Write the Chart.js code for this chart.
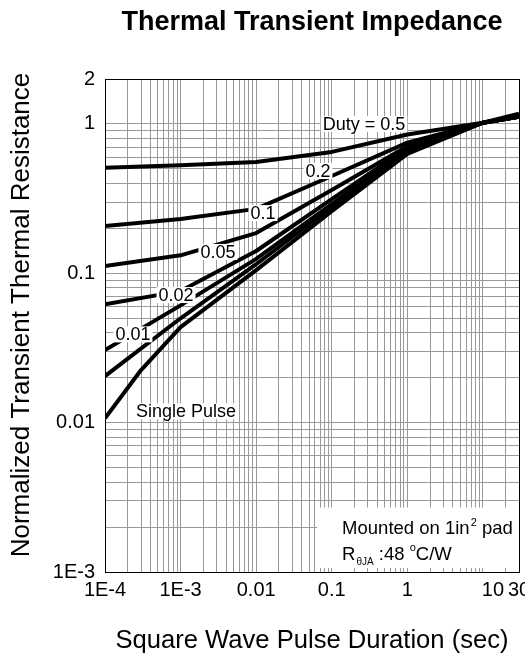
<!DOCTYPE html>
<html>
<head>
<meta charset="utf-8">
<script src="https://cdn.jsdelivr.net/npm/chart.js@4.4.1/dist/chart.umd.min.js"></script>
<style>
  html, body { margin: 0; padding: 0; background: #fff; }
  #wrap { width: 525px; height: 659px; }
</style>
</head>
<body>
<div id="wrap"><canvas id="chart" width="525" height="659"></canvas></div>
<script>
// pulse duration (sec) where the curves were read
const pulseTimes = [1e-4, 1e-3, 0.01, 0.1, 1, 10, 30];
const singleTimes = [1e-4, 3e-4, 1e-3, 0.01, 0.1, 1, 10, 30];

// normalized transient thermal resistance
const duty05 = [0.51, 0.53, 0.556, 0.65, 0.85, 1.02, 1.17];
const duty02 = [0.207, 0.231, 0.27, 0.448, 0.75, 1.02, 1.13];
const duty01 = [0.112, 0.132, 0.186, 0.361, 0.71, 1.02, 1.12];
const duty005 = [0.062, 0.076, 0.141, 0.314, 0.69, 1.02, 1.12];
const duty002 = [0.0306, 0.061, 0.125, 0.291, 0.67, 1.02, 1.12];
const duty001 = [0.0205, 0.050, 0.115, 0.278, 0.65, 1.02, 1.12];
const singlePulse = [0.0107, 0.0225, 0.0436, 0.105, 0.261, 0.63, 1.02, 1.12];

// curve labels and where they sit (data coords)
const curveLabels = ['Duty = 0.5', '0.2', '0.1', '0.05', '0.02', '0.01', 'Single Pulse'];
const labelX = [0.267, 0.0656, 0.0123, 0.00312, 8.7e-4, 2.34e-4, 1.18e-3];
const labelY = [1.0, 0.484, 0.253, 0.139, 0.0715, 0.039, 0.0119];

// tick labels
const xLabelValues = [1e-4, 1e-3, 0.01, 0.1, 1, 10, 30];
const xLabelText = ['1E-4', '1E-3', '0.01', '0.1', '1', '10', '30'];
const yLabelValues = [1e-3, 0.01, 0.1, 1, 2];
const yLabelText = ['1E-3', '0.01', '0.1', '1', '2'];

// note box corner (data coords)
const noteX = 0.064;
const noteY = 0.0027;

const FONT = '"Liberation Sans", Arial, Helvetica, sans-serif';

function logGrid(min, max) {
  const out = [];
  for (let e = -5; e <= 2; e++) {
    for (let m = 1; m <= 9; m++) {
      const v = parseFloat((m * Math.pow(10, e)).toPrecision(3));
      if (v >= min * 0.999 && v <= max * 1.001) out.push(v);
    }
  }
  return out;
}

const pts = (xs, ys) => xs.map((x, i) => ({ x: x, y: ys[i] }));

const lineStyle = {
  borderColor: '#000',
  borderWidth: 4,
  pointRadius: 0,
  fill: false,
  tension: 0,
  borderJoinStyle: 'round'
};

const datasets = [
  { label: '0.5', data: pts(pulseTimes, duty05) },
  { label: '0.2', data: pts(pulseTimes, duty02) },
  { label: '0.1', data: pts(pulseTimes, duty01) },
  { label: '0.05', data: pts(pulseTimes, duty005) },
  { label: '0.02', data: pts(pulseTimes, duty002) },
  { label: '0.01', data: pts(pulseTimes, duty001) },
  { label: 'Single Pulse', data: pts(singleTimes, singlePulse) }
].map(d => Object.assign({}, lineStyle, d));

const decorations = {
  id: 'decorations',
  beforeDraw(chart) {
    const ctx = chart.ctx;
    ctx.save();
    ctx.fillStyle = '#fff';
    ctx.fillRect(0, 0, chart.width, chart.height);
    ctx.restore();
  },
  afterDatasetsDraw(chart) {
    const ctx = chart.ctx;
    const xs = chart.scales.x, ys = chart.scales.y;
    const area = chart.chartArea;
    ctx.save();

    // curve labels with white backing
    ctx.font = '18px ' + FONT;
    ctx.textAlign = 'center';
    ctx.textBaseline = 'middle';
    curveLabels.forEach((t, i) => {
      const cx = xs.getPixelForValue(labelX[i]);
      const cy = ys.getPixelForValue(labelY[i]);
      const w = ctx.measureText(t).width;
      ctx.fillStyle = '#fff';
      ctx.fillRect(cx - w / 2 - 2, cy - 8, w + 4, 16);
      ctx.fillStyle = '#000';
      ctx.fillText(t, cx, cy + 1);
    });

    // mounting note
    const nx = xs.getPixelForValue(noteX);
    const ny = ys.getPixelForValue(noteY);
    ctx.fillStyle = '#fff';
    ctx.fillRect(nx, ny, area.right - nx, area.bottom - 4 - ny);
    ctx.fillStyle = '#000';
    ctx.textAlign = 'left';
    ctx.textBaseline = 'alphabetic';
    const big = '18.5px ' + FONT;
    let tx = nx + 25, base1 = ny + 26, base2 = ny + 52;
    ctx.font = big;
    ctx.fillText('Mounted on 1in', tx, base1);
    tx += ctx.measureText('Mounted on 1in').width + 1;
    ctx.font = '11px ' + FONT;
    ctx.fillText('2', tx, base1 - 8);
    tx += ctx.measureText('2').width;
    ctx.font = big;
    ctx.fillText(' pad', tx, base1);

    tx = nx + 25;
    ctx.fillText('R', tx, base2);
    tx += ctx.measureText('R').width + 1;
    ctx.font = '10px ' + FONT;
    ctx.fillText('\u03B8JA', tx, base2 + 5);
    tx += ctx.measureText('\u03B8JA').width;
    ctx.font = big;
    ctx.fillText(' :48 ', tx, base2);
    tx += ctx.measureText(' :48 ').width;
    ctx.font = '11px ' + FONT;
    ctx.fillText('o', tx, base2 - 9);
    tx += ctx.measureText('o').width;
    ctx.font = big;
    ctx.fillText('C/W', tx, base2);

    // frame
    ctx.strokeStyle = '#000';
    ctx.lineWidth = 1;
    ctx.strokeRect(Math.round(area.left) + 0.5, Math.round(area.top) + 0.5,
      Math.round(area.right - area.left), Math.round(area.bottom - area.top));
    ctx.restore();
  },
  afterDraw(chart) {
    const ctx = chart.ctx;
    const xs = chart.scales.x;
    const area = chart.chartArea;
    const mid = (area.left + area.right) / 2;
    ctx.save();
    ctx.fillStyle = '#000';
    ctx.textAlign = 'center';
    ctx.textBaseline = 'middle';

    ctx.font = 'bold 27px ' + FONT;
    ctx.fillText('Thermal Transient Impedance', mid, 23);

    ctx.font = '20px ' + FONT;
    xLabelValues.forEach((v, i) => {
      // "10" is nudged right in the original so it clears "30"
      const shift = xLabelText[i] === '10' ? 10 : 0;
      ctx.fillText(xLabelText[i], xs.getPixelForValue(v) + shift, 590);
    });

    ctx.font = '25.6px ' + FONT;
    ctx.fillText('Square Wave Pulse Duration (sec)', mid, 641);

    ctx.font = '26px ' + FONT;
    ctx.translate(22, 315);
    ctx.rotate(-Math.PI / 2);
    ctx.fillText('Normalized Transient Thermal Resistance', 0, 0);
    ctx.restore();
  }
};

new Chart(document.getElementById('chart'), {
  type: 'line',
  data: { datasets: datasets },
  options: {
    responsive: false,
    animation: false,
    devicePixelRatio: 1,
    layout: { padding: { top: 79, right: 6, bottom: 0, left: 0 } },
    plugins: {
      legend: { display: false },
      title: { display: false },
      tooltip: { enabled: false }
    },
    scales: {
      x: {
        type: 'logarithmic',
        min: 1e-4,
        max: 30,
        afterBuildTicks: s => { s.ticks = logGrid(1e-4, 30).map(v => ({ value: v })); },
        afterFit: s => { s.height = 87; s.paddingLeft = 0; s.paddingRight = 0; },
        ticks: { display: false, autoSkip: false },
        grid: { color: '#999', drawTicks: false },
        border: { display: false }
      },
      y: {
        type: 'logarithmic',
        min: 1e-3,
        max: 2,
        afterBuildTicks: s => { s.ticks = logGrid(1e-3, 2).map(v => ({ value: v })); },
        afterFit: s => { s.width = 105; s.paddingTop = 0; s.paddingBottom = 0; },
        ticks: {
          autoSkip: false,
          padding: 10,
          color: '#000',
          font: { family: FONT, size: 20 },
          callback: v => {
            const k = yLabelValues.findIndex(t => Math.abs(t - v) / t < 1e-6);
            return k >= 0 ? yLabelText[k] : '';
          }
        },
        grid: { color: '#999', drawTicks: false },
        border: { display: false }
      }
    }
  },
  plugins: [decorations]
});
</script>
</body>
</html>
